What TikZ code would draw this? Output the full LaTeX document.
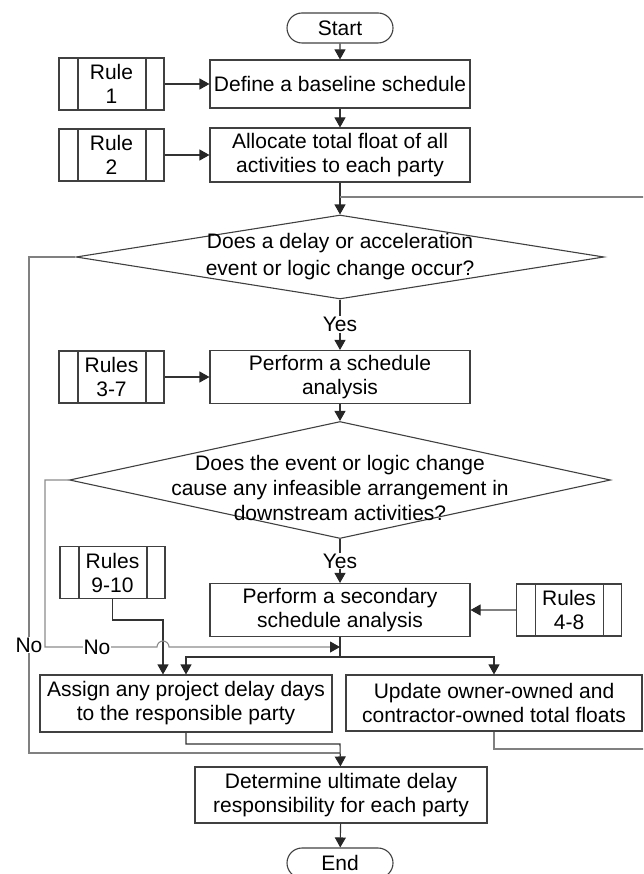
\documentclass[tikz,border=0pt]{standalone}
\usepackage{fontspec}
\setmainfont{Liberation Sans}
\usetikzlibrary{shapes.geometric,shapes.misc,arrows.meta}

\begin{document}
\begin{tikzpicture}[x=1pt,y=-1pt,
  every node/.style={font=\fontsize{21pt}{24pt}\selectfont},
  proc/.style={draw=black!75,line width=1.1pt,align=center,inner sep=0pt},
  rulebox/.style={proc,minimum width=105pt,minimum height=52pt,
    path picture={\draw[black!75,line width=1.1pt]
      ([xshift=19pt]path picture bounding box.north west) -- ([xshift=19pt]path picture bounding box.south west)
      ([xshift=-18pt]path picture bounding box.north east) -- ([xshift=-18pt]path picture bounding box.south east);}},
  term/.style={proc,rounded rectangle,minimum width=106pt,minimum height=30pt},
  decision/.style={diamond,draw=black!75,line width=1.1pt,inner sep=0pt},
  link/.style={draw=black!80,line width=1.1pt},
  arr/.style={link,-{Triangle[length=10pt,width=11pt,color=black!85]}},
  back/.style={draw=black!50,line width=1.1pt},
  lbl/.style={fill=white,inner sep=1pt}]
  \useasboundingbox (0,0) rectangle (643,874);
  \clip (0,0) rectangle (643,874);

  \node[term] (start) at (340,28) {Start};
  \node[proc,minimum width=260pt,minimum height=48pt] (define) at (340,84) {Define a baseline schedule};
  \node[rulebox] (rule1) at (111.5,84) {Rule\\1};
  \node[proc,minimum width=260pt,minimum height=54pt] (alloc) at (340,155) {Allocate total float of all\\activities to each party};
  \node[rulebox] (rule2) at (111.5,155) {Rule\\2};
  \node[decision,minimum width=528pt,minimum height=84pt] (q1) at (340,257) {};
  \node[align=center,font=\fontsize{21pt}{27pt}\selectfont] (q1text) at (340,257) {Does a delay or acceleration\\event or logic change occur?};
  \node[proc,minimum width=260pt,minimum height=53pt] (perform) at (340,377) {Perform a schedule\\analysis};
  \node[rulebox] (rule37) at (111.5,377) {Rules\\3-7};
  \node[decision,minimum width=541pt,minimum height=117pt] (q2) at (340,480) {};
  \node[align=center,font=\fontsize{21pt}{25pt}\selectfont] (q2text) at (340,488) {Does the event or logic change\\cause any infeasible arrangement in\\downstream activities?};
  \node[rulebox] (rule910) at (112.5,572.5) {Rules\\9-10};
  \node[proc,minimum width=260pt,minimum height=53pt] (second) at (340,610) {Perform a secondary\\schedule analysis};
  \node[rulebox] (rule48) at (569,610) {Rules\\4-8};
  \node[proc,minimum width=292pt,minimum height=57pt] (assign) at (186,703.5) {Assign any project delay days\\to the responsible party};
  \node[proc,minimum width=296pt,minimum height=56pt] (update) at (494,703) {Update owner-owned and\\contractor-owned total floats};
  \node[proc,minimum width=292pt,minimum height=56pt] (determine) at (341,795) {Determine ultimate delay\\responsibility for each party};
  \node[term] (end) at (340,863) {End};

  \coordinate (jn) at (340,657);
  \coordinate (noend) at (340,647);
  \coordinate (r9) at (163,620);
  \coordinate (m1) at (340,744);
  \coordinate (m2) at (340,753);
  \coordinate (loopr) at (652,749);
  \coordinate (loopt) at (340,197);

  \draw[arr] (start) -- (define);
  \draw[arr] (rule1) -- (define);
  \draw[arr] (define) -- (alloc);
  \draw[arr] (rule2) -- (alloc);
  \draw[arr] (alloc) -- (q1);
  \draw[arr] (q1) -- node[lbl] (yes1) {Yes} (perform);
  \draw[arr] (rule37) -- (perform);
  \draw[arr] (perform) -- (q2);
  \draw[arr] (q2) -- node[lbl] (yes2) {Yes} (second);
  \draw[arr,draw=black!50] (rule48) -- (second);
  \draw[link] (second) -- (jn);
  \draw[arr] (jn) -| (assign);
  \draw[arr] (jn) -| (update);
  \draw[arr] (rule910) |- (r9) -- (r9 |- assign.north);
  \draw[arr,draw=black!45] (q2.west) -- (45,480) -- (45,647) -- (157,647)
    arc[start angle=180,end angle=0,radius=6pt] -- (noend);
  \draw[back] (q1.west) -- (29,257) |- (m2);
  \draw[arr] (assign) |- (m1) -- (determine);
  \draw[back] (update) |- (loopr) |- (loopt);
  \draw[arr] (determine) -- (end);

  \node[lbl] (no1) at (29,645) {No};
  \node[lbl] (no2) at (97,647) {No};
\end{tikzpicture}
\end{document}
